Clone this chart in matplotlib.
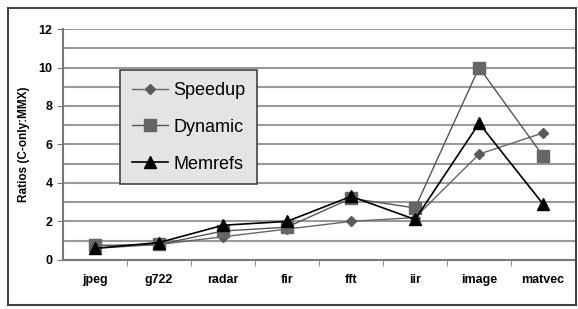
import numpy as np
import matplotlib
matplotlib.use("Agg")
import matplotlib.pyplot as plt
from matplotlib.patches import Rectangle

categories = ["jpeg", "g722", "radar", "fir", "fft", "iir", "image", "matvec"]
speedup = [0.6, 0.8, 1.2, 1.6, 2.0, 2.2, 5.5, 6.6]
dynamic = [0.75, 0.8, 1.5, 1.7, 3.2, 2.7, 10.0, 5.4]
memrefs = [0.6, 0.9, 1.8, 2.0, 3.3, 2.1, 7.1, 2.9]

plt.rcParams['font.family'] = ['Liberation Sans', 'DejaVu Sans']

fig = plt.figure(figsize=(5.78, 3.09), dpi=100)
ax = fig.add_axes([0.109, 0.159, 0.886, 0.747])

x = np.arange(len(categories))
ax.plot(x, speedup, color='#666666', lw=1.0, marker='D', ms=5.5,
        markerfacecolor='#5a5a5a', markeredgecolor='#5a5a5a', label='Speedup')
ax.plot(x, dynamic, color='#555555', lw=1.0, marker='s', ms=8.5,
        markerfacecolor='#666666', markeredgecolor='#666666', label='Dynamic')
ax.plot(x, memrefs, color='black', lw=1.2, marker='^', ms=8.5,
        markerfacecolor='black', label='Memrefs')

ax.set_xlim(-0.5, 7.5)
ax.set_ylim(0, 12)
ax.set_yticks(np.arange(0, 13, 2))
ax.set_yticks(np.arange(0, 13, 1), minor=True)
ax.yaxis.grid(True, which='both', color='#9a9a9a', lw=1.5)
ax.set_axisbelow(True)

ax.set_xticks(x)
ax.set_xticklabels(categories, fontsize=9, fontweight='bold')
ax.set_xticks(np.arange(0.5, 7.5, 1), minor=True)
ax.tick_params(axis='x', which='major', length=0, pad=10)
ax.tick_params(axis='x', which='minor', length=4, color='#777777', direction='out')
ax.tick_params(axis='y', which='major', labelsize=9, length=4, color='#777777')
ax.tick_params(axis='y', which='minor', length=0)
for lab in ax.get_yticklabels():
    lab.set_fontweight('bold')

for s in ['top', 'right']:
    ax.spines[s].set_visible(False)
ax.spines['left'].set_color('#777777')
ax.spines['bottom'].set_color('#777777')
ax.spines['left'].set_linewidth(1.5)
ax.spines['bottom'].set_linewidth(1.5)

ax.set_ylabel('Ratios (C-only:MMX)', fontsize=8.5, fontweight='bold', labelpad=6)

leg = ax.legend(loc='upper left', bbox_to_anchor=(0.112, 0.822), fontsize=13,
                frameon=True, fancybox=False, framealpha=1,
                handlelength=2.0, borderpad=0.65, labelspacing=1.1,
                handletextpad=0.3, borderaxespad=0)
leg.get_frame().set_facecolor('#e4e4e4')
leg.get_frame().set_edgecolor('#444444')
leg.get_frame().set_linewidth(1.2)

fig.patches.append(Rectangle((8 / 578, 4 / 309), 568 / 578, 297 / 309,
                             transform=fig.transFigure, fill=False,
                             edgecolor='#444444', lw=1.5))

fig.savefig("out.png", dpi=100)
